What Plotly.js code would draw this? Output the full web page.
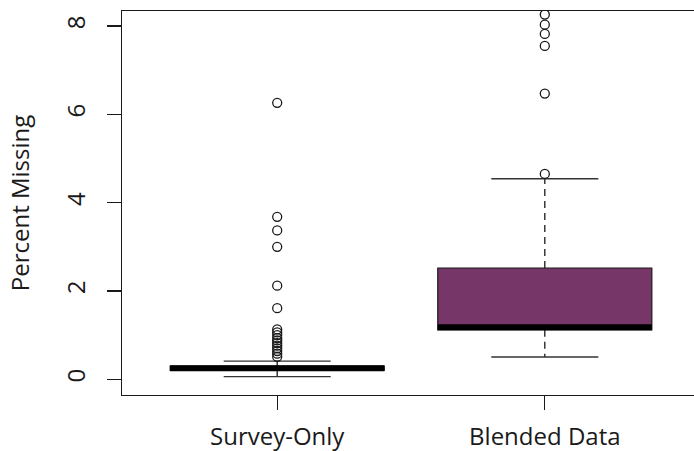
<!DOCTYPE html>
<html>
<head>
<meta charset="utf-8">
<script src="https://cdn.plot.ly/plotly-3.0.1.min.js"></script>
<style>
html,body{margin:0;padding:0;overflow:hidden;background:#fff;}
#chart{width:720px;height:451px;}
</style>
</head>
<body>
<div id="chart"></div>
<script>
// ---- data ----
const categories = ['Survey-Only', 'Blended Data'];
const q1 = [0.20, 1.12];
const median = [0.25, 1.18];
const q3 = [0.30, 2.52];
const lowerWhisker = [0.06, 0.505];
const upperWhisker = [0.41, 4.54];
const surveyOutliers = [6.26, 3.68, 3.37, 3.00, 2.12, 1.61, 1.13, 1.06, 1.00, 0.93, 0.88, 0.82, 0.76, 0.70, 0.64, 0.58, 0.51];
const blendedOutliers = [4.65, 6.47, 7.55, 7.82, 8.03, 8.26];
const outliers = [surveyOutliers, blendedOutliers];
const fillColors = ['#000000', '#763768'];
const yTicks = [0, 2, 4, 6, 8];

// ---- style ----
const ink = '#1a1a1a';
const boxHalf = 0.4, capHalf = 0.2;
const fontFam = '"Open Sans", "Noto Sans", sans-serif';

const positions = categories.map((c, i) => i + 1);
const traces = [];

categories.forEach((cat, i) => {
  const p = positions[i];
  traces.push({
    type: 'box', x: [p], q1: [q1[i]], median: [median[i]], q3: [q3[i]],
    lowerfence: [q1[i]], upperfence: [q3[i]], width: 2 * boxHalf, whiskerwidth: 0,
    fillcolor: fillColors[i], line: {color: ink, width: 1.2}, boxpoints: false,
    hoverinfo: 'skip', showlegend: false, name: cat
  });
  traces.push({
    type: 'scatter', mode: 'lines', hoverinfo: 'skip', showlegend: false,
    x: [p, p, null, p, p], y: [q3[i], upperWhisker[i], null, q1[i], lowerWhisker[i]],
    line: {color: ink, width: 1.3, dash: '7px,5px'}
  });
  traces.push({
    type: 'scatter', mode: 'lines', hoverinfo: 'skip', showlegend: false,
    x: [p - capHalf, p + capHalf, null, p - capHalf, p + capHalf],
    y: [upperWhisker[i], upperWhisker[i], null, lowerWhisker[i], lowerWhisker[i]],
    line: {color: '#333', width: 1.4}
  });
  traces.push({
    type: 'scatter', mode: 'lines', hoverinfo: 'skip', showlegend: false,
    x: [p - boxHalf, p + boxHalf], y: [median[i], median[i]],
    line: {color: '#000', width: 6}
  });
  traces.push({
    type: 'scatter', mode: 'markers', hoverinfo: 'skip', showlegend: false,
    x: outliers[i].map(() => p), y: outliers[i],
    marker: {symbol: 'circle-open', size: 9, color: ink, line: {width: 1.3, color: ink}},
    cliponaxis: true
  });
});

const layout = {
  width: 720, height: 451,
  margin: {l: 122, r: 20, t: 11, b: 56},
  paper_bgcolor: '#fff', plot_bgcolor: '#fff',
  showlegend: false,
  font: {family: fontFam, size: 24, color: ink},
  xaxis: {
    range: [0.42, 2.58], tickvals: positions, ticktext: categories,
    showgrid: false, zeroline: false, showline: true, mirror: true,
    linecolor: ink, linewidth: 1.3, ticks: 'outside', ticklen: 14, tickwidth: 1.3, tickcolor: ink,
    ticklabelstandoff: 6,
    tickfont: {family: fontFam, size: 24, color: ink}
  },
  yaxis: {
    range: [-0.356, 8.34], tickvals: yTicks, ticktext: yTicks.map(String),
    tickangle: -90,
    showgrid: false, zeroline: false, showline: true, mirror: true,
    linecolor: ink, linewidth: 1.3, ticks: 'outside', ticklen: 14, tickwidth: 1.3, tickcolor: ink,
    ticklabelstandoff: 12,
    tickfont: {family: fontFam, size: 24, color: ink},
    title: {text: 'Percent Missing', font: {family: fontFam, size: 24, color: ink}, standoff: 22}
  }
};

Plotly.newPlot('chart', traces, layout, {staticPlot: true, displayModeBar: false});
</script>
</body>
</html>
